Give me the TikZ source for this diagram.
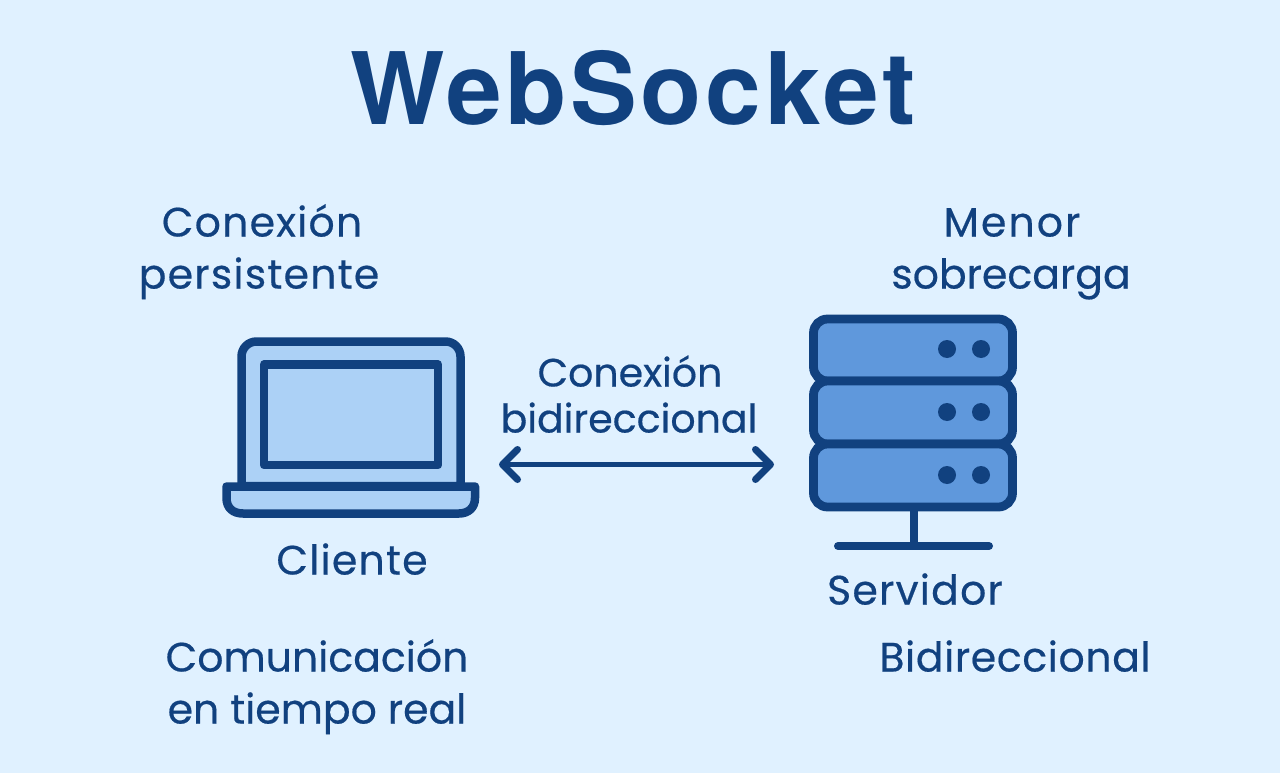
\documentclass[tikz,border=0pt]{standalone}
\usepackage{fontspec}
\setmainfont{Noto Sans}
\newfontfamily\bodyfont[FakeBold=0.45]{Poppins}
\newfontfamily\bodyfontA[FakeBold=0.45,LetterSpace=1.5]{Poppins}
\newfontfamily\bodyfontB[FakeBold=0.45,LetterSpace=3]{Poppins}
\newfontfamily\bodyfontC[FakeBold=0.45,LetterSpace=5]{Poppins}
\newfontfamily\titlefont[LetterSpace=3.8]{TeX Gyre Heros}
\usetikzlibrary{arrows.meta}
\definecolor{bgc}{HTML}{E0F1FF}
\definecolor{ink}{HTML}{11417F}
\definecolor{lite}{HTML}{ACD1F6}
\definecolor{mid}{HTML}{5F98DC}
\tikzset{
 lbl/.style={text=ink,anchor=base,inner sep=0pt,font=\bodyfont\fontsize{41}{41}\selectfont},
 lblA/.style={lbl,font=\bodyfontA\fontsize{41}{41}\selectfont},
 lblB/.style={lbl,font=\bodyfontB\fontsize{41}{41}\selectfont},
 lblC/.style={lbl,font=\bodyfontC\fontsize{41}{41}\selectfont},
 lblS/.style={lbl,font=\bodyfont\fontsize{39.5}{39.5}\selectfont},
 ttl/.style={text=ink,anchor=base,inner sep=0pt,font=\titlefont\fontsize{100}{100}\selectfont\bfseries},
 part/.style={draw=ink,fill=lite,line width=8.5pt,line join=round},
 rack/.style={draw=ink,fill=mid,line width=8.8pt,rounded corners=14pt},
 led/.style={circle,fill=ink,minimum size=18pt,inner sep=0pt},
 duplex/.style={draw=ink,line width=4.5pt,{Straight Barb[round,length=15pt,width=30pt,line width=7pt]}-{Straight Barb[round,length=15pt,width=30pt,line width=7pt]}}
}
\begin{document}
\begin{tikzpicture}[x=1pt,y=-1pt]
\path[fill=bgc] (0,0) rectangle (1280,773);
\useasboundingbox (0,0) rectangle (1280,773);
\node[ttl] (title) at (633,125) {WebSocket};
\node[lblB] (p1a) at (262,236.5) {Conexión};
\node[lblB] (p1b) at (259,288.5) {persistente};
\node[lblC] (p2a) at (1012,236.5) {Menor};
\node[lbl] (p2b) at (1011,288.5) {sobrecarga};
\node[lblS] (ca) at (630,386.5) {Conexión};
\node[lblS] (cb) at (629,432.5) {bidireccional};
\node[lblB] (cli) at (352,574.5) {Cliente};
\node[lblB] (srv) at (915,604.5) {Servidor};
\node[lbl] (p3a) at (317,671.5) {Comunicación};
\node[lbl] (p3b) at (317,723.5) {en tiempo real};
\node[lblA] (p4) at (1015,671.5) {Bidireccional};
% laptop
\path[part] (241.5,486) -- (241.5,356) [rounded corners=15pt] -- (241.5,341.5) -- (460.5,341.5) [sharp corners] -- (460.5,486) -- cycle;
\path[part] (264,364.5) rectangle (438,465);
\path[part] (226.5,486.5) -- (475,486.5) -- (475,498) .. controls (475,508) and (468,513.5) .. (459,513.5) -- (243,513.5) .. controls (233,513.5) and (226.5,508) .. (226.5,498) -- cycle;
% server
\draw[draw=ink,line width=8pt] (914,507) -- (914,546);
\draw[draw=ink,line width=8pt,line cap=round] (838,546) -- (989,546);
\path[rack] (813.5,319) rectangle (1012.5,381);
\path[rack] (813.5,381) rectangle (1012.5,444);
\path[rack] (813.5,444) rectangle (1012.5,507);
\foreach \y/\n in {349/a,412/b,475/c}{
 \node[led] (l\n) at (947,\y) {};
 \node[led] (r\n) at (981,\y) {};
}
\coordinate (endL) at (499,464.5);
\coordinate (endR) at (774,464.5);
\draw[duplex] (endL) -- (endR);
\end{tikzpicture}
\end{document}
